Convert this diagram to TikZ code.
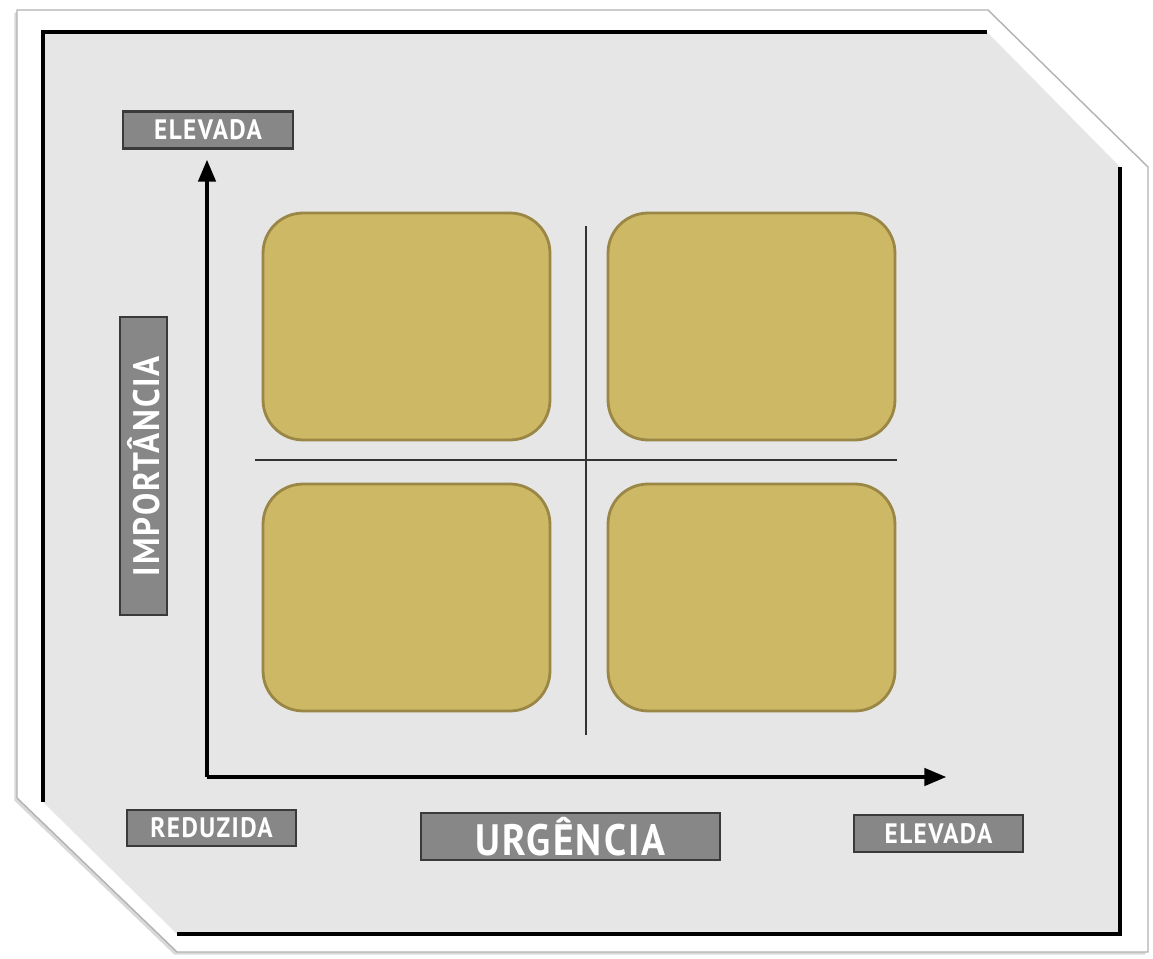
\documentclass[tikz,border=0pt]{standalone}
\usepackage{fontspec}
\newfontfamily\tagfont[FakeStretch=0.9,LetterSpace=5]{PT Sans}
\usetikzlibrary{arrows,shadows}
\definecolor{panelgray}{HTML}{E6E6E6}
\definecolor{tagfill}{HTML}{878787}
\definecolor{tagline}{HTML}{3A3A3A}
\definecolor{cellfill}{HTML}{CDB866}
\definecolor{cellline}{HTML}{9A8746}

\begin{document}
\begin{tikzpicture}[x=0.02cm,y=-0.02cm,
  tag/.style={draw=tagline,line width=1.2pt,fill=tagfill,text=white,inner sep=0pt},
  cell/.style={draw=cellline,line width=1.6pt,fill=cellfill,rounded corners=0.8cm,
    minimum width=5.74cm,minimum height=4.54cm}]
   \useasboundingbox (0,0) rectangle (1153,959);
   % frame and panel
   \filldraw[fill=white,draw=gray!60,line width=0.8pt,
      drop shadow={shadow xshift=-1.5pt,shadow yshift=-1.5pt,opacity=.3}]
      (17,10) -- (988,10) -- (1148,167) -- (1148,952) -- (177,952) -- (17,798) -- cycle;
   \fill[panelgray] (43,32) -- (987,32) -- (1120,167) -- (1120,934) -- (177,934) -- (43,802) -- cycle;
   \draw[line width=2.3pt] (43,802) -- (43,32) -- (987,32);
   \draw[line width=2.3pt] (1120,167) -- (1120,934) -- (177,934);
   % quadrants
   \node (q1) at (406.5,326.5) [cell] {};
   \node (q2) at (751.5,326.5) [cell] {};
   \node (q3) at (406.5,597.5) [cell] {};
   \node (q4) at (751.5,597.5) [cell] {};
   \coordinate (hl) at (255,460);
   \coordinate (hr) at (897,460);
   \coordinate (vt) at (586,226);
   \coordinate (vb) at (586,735);
   \draw[line width=1.1pt,black!80] (hl) to (hr);
   \draw[line width=1.1pt,black!80] (vt) to (vb);
   % axes
   \coordinate (o) at (207,777);
   \coordinate (ytip) at (207,160);
   \coordinate (xtip) at (946,777);
   \draw[-triangle 45,line width=1.9pt] (o) to (ytip);
   \draw[-triangle 45,line width=1.9pt] (o) to (xtip);
   % labels
   \node (top) at (208,130) [tag,minimum width=3.4cm,minimum height=0.74cm]
      {\tagfont\bfseries\fontsize{16}{16}\selectfont ELEVADA};
   \node (imp) at (143.5,466) [tag,rotate=90,minimum width=5.96cm,minimum height=0.94cm]
      {\tagfont\bfseries\fontsize{21}{21}\selectfont IMPORTÂNCIA};
   \node (low) at (211.5,828) [tag,minimum width=3.38cm,minimum height=0.72cm]
      {\tagfont\bfseries\fontsize{16}{16}\selectfont REDUZIDA};
   \node (urg) at (570.5,836.5) [tag,minimum width=5.98cm,minimum height=0.94cm]
      {\tagfont\bfseries\fontsize{25}{25}\selectfont URGÊNCIA};
   \node (high) at (938.5,833.5) [tag,minimum width=3.38cm,minimum height=0.74cm]
      {\tagfont\bfseries\fontsize{16}{16}\selectfont ELEVADA};
\end{tikzpicture}
\end{document}
